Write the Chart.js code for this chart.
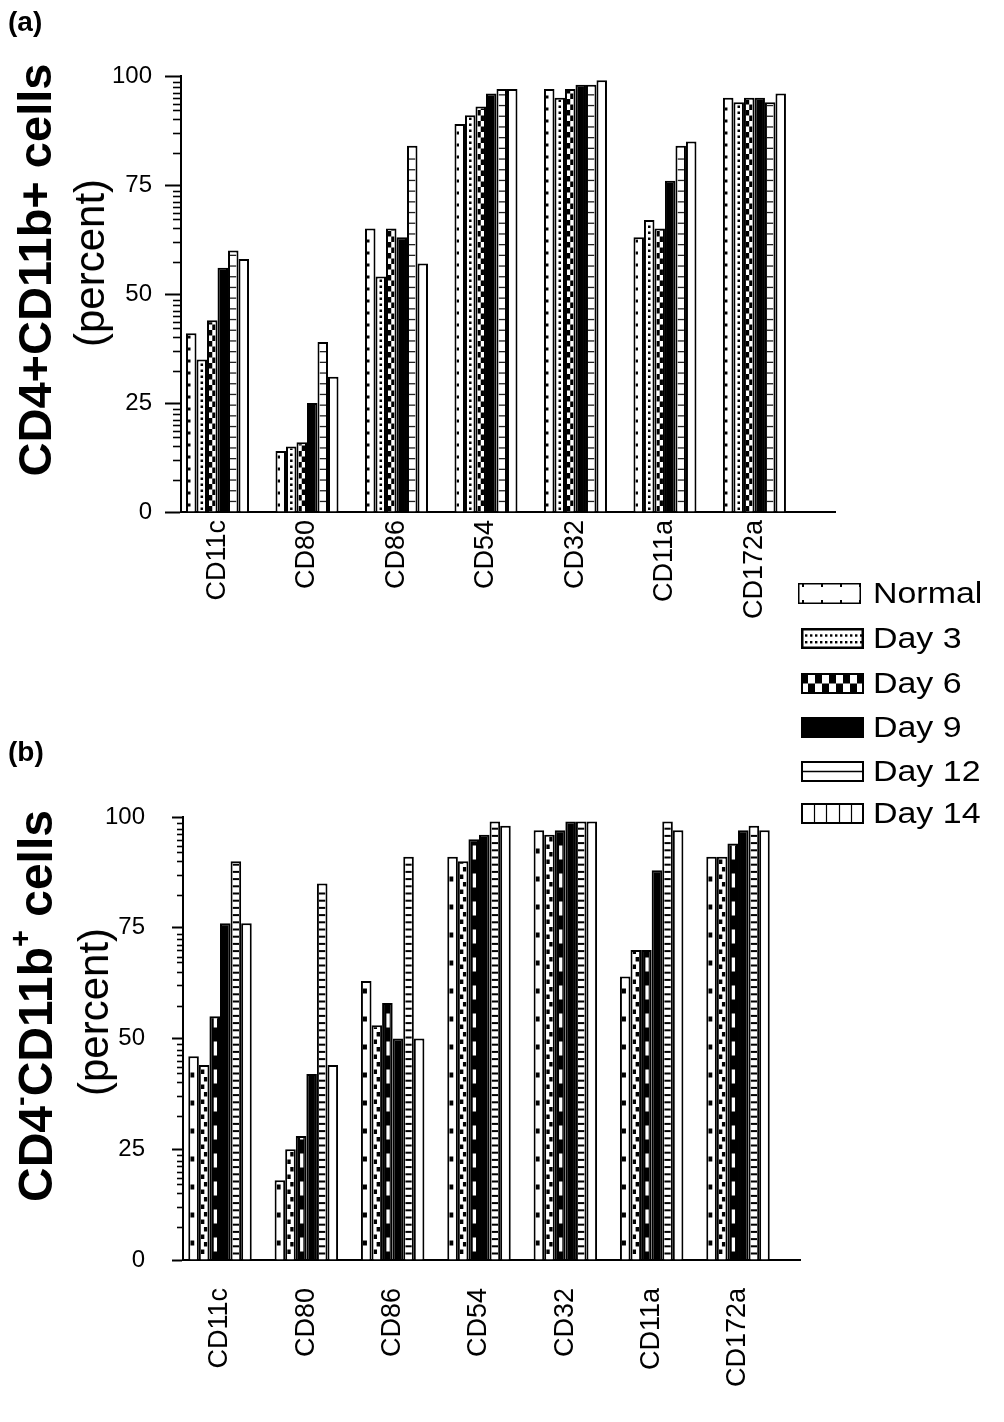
<!DOCTYPE html>
<html><head><meta charset="utf-8">
<script src="https://cdn.jsdelivr.net/npm/chart.js@4.4.1/dist/chart.umd.min.js"></script>
<style>
body{margin:0;background:#fff;}
#page{position:relative;width:1004px;height:1422px;overflow:hidden;background:#fff;font-family:"Liberation Sans",Arial,Helvetica,sans-serif;color:#000}
canvas.chart{position:absolute;left:0}
.rot{position:absolute;white-space:nowrap;transform:translate(-50%,-50%) rotate(-90deg);line-height:1}
.rot sup{font-size:60%;vertical-align:0.75em;line-height:0}
.plabel{position:absolute;font-weight:bold;font-size:28px;line-height:1}
.legtext{position:absolute;font-size:29px;line-height:1;white-space:nowrap;transform-origin:left center;transform:translateY(-50%) scaleX(1.17)}
.legsw{position:absolute}
</style></head>
<body><div id="page">
<canvas id="chartA" class="chart" width="1004" height="660" style="top:0"></canvas>
<canvas id="chartB" class="chart" width="1004" height="722" style="top:700px"></canvas>
<div class="plabel" style="left:8px;top:8px">(a)</div>
<div class="plabel" style="left:8px;top:738px">(b)</div>
<div class="rot" style="left:34px;top:270px;font-size:47px;font-weight:bold">CD4+CD11b+ cells</div>
<div class="rot" style="left:90px;top:263px;font-size:42px">(percent)</div>
<div class="rot" style="left:36px;top:1006px;font-size:48px;font-weight:bold">CD4<sup>-</sup>CD11b<sup>+</sup> cells</div>
<div class="rot" style="left:94px;top:1012px;font-size:42px">(percent)</div>
<div id="legend"></div>
</div>
<script>
// ---- data ----
const categories = ['CD11c','CD80','CD86','CD54','CD32','CD11a','CD172a'];
const seriesNames = ['Normal','Day 3','Day 6','Day 9','Day 12','Day 14'];
const yTicks = [0,25,50,75,100];

// (a) CD4+CD11b+ cells (percent)
const aNormal = [41,14,65,89,97,63,95];
const aDay3   = [35,15,54,91,95,67,94];
const aDay6   = [44,16,65,93,97,65,95];
const aDay9   = [56,25,63,96,98,76,95];
const aDay12  = [60,39,84,97,98,84,94];
const aDay14  = [58,31,57,97,99,85,96];

// (b) CD4-CD11b+ cells (percent)
const bNormal = [46,18,63,91,97,64,91];
const bDay3   = [44,25,53,90,96,70,91];
const bDay6   = [55,28,58,95,97,70,94];
const bDay9   = [76,42,50,96,99,88,97];
const bDay12  = [90,85,91,99,99,99,98];
const bDay14  = [76,44,50,98,99,97,97];

// ---- style / layout ----
const FONT = '"Liberation Sans", Arial, Helvetica, sans-serif';
const minorFractions = [0.052,0.104,0.152,0.204,0.26,0.312,0.396,0.52,0.704];

function fillBarPattern(ctx, style, di, l, t, r, b) {
  const w = r - l;
  ctx.fillStyle = '#000';
  if (style === 'a') {
    if (di === 0) { for (let y = b - 8; y > t - 3; y -= 12) ctx.fillRect(l, y, 2.5, 3); }
    else if (di === 1) { for (let y = b - 4; y > t - 3; y -= 6) ctx.fillRect(l + w/2 - 1.2, y, 2.5, 2.5); }
    else if (di === 2) { const ch = 5.5; let k = 0; for (let y = b - ch; y > t - ch; y -= ch, k++) ctx.fillRect(k % 2 ? l + w/2 : l, y, w/2, ch); }
    else if (di === 4) { ctx.fillStyle = '#222'; for (let y = b - 10.7; y > t; y -= 10.7) ctx.fillRect(l, y, w, 1.3); }
  } else {
    if (di === 0) { for (let y = b - 19; y > t - 5; y -= 28) ctx.fillRect(l, y, 4, 5); }
    else if (di === 1) { let k = 0; for (let y = b - 10; y > t - 5; y -= 7.5, k++) ctx.fillRect(k % 2 ? r - 3.5 : l, y, 3.5, 4.5); }
    else if (di === 2) { ctx.fillStyle = '#fff'; for (let y = b - 22; y > t - 14; y -= 28) ctx.fillRect(l + w * 0.35, y, w * 0.5, 14); }
    else if (di === 4) { for (let y = b - 7; y > t; y -= 7.2) ctx.fillRect(l, y, w, 2); }
  }
}

function makePatternPlugin(style) {
  return {
    id: 'barPatterns' + style,
    afterDatasetDraw(chart, args) {
      const ctx = chart.ctx, bw = 2, di = args.index;
      args.meta.data.forEach(el => {
        const p = el.getProps(['x','y','base','width'], true);
        const l = p.x - p.width/2 + bw, r = p.x + p.width/2 - bw;
        const t = Math.min(p.y, p.base) + bw, b = Math.max(p.y, p.base);
        ctx.save(); ctx.beginPath(); ctx.rect(l, t, r - l, b - t); ctx.clip();
        fillBarPattern(ctx, style, di, l, t, r, b);
        ctx.restore();
      });
    }
  };
}

function makeMinorPlugin(len) {
  return {
    id: 'minorTicks',
    afterDraw(chart) {
      const ys = chart.scales.y, ctx = chart.ctx, x0 = ys.right;
      ctx.save(); ctx.strokeStyle = '#000'; ctx.lineWidth = 1.6;
      for (let i = 1; i < yTicks.length; i++) {
        const top = yTicks[i], step = yTicks[i] - yTicks[i-1];
        minorFractions.forEach(f => {
          const py = Math.round(ys.getPixelForValue(top - step * f)) + 0.5;
          ctx.beginPath(); ctx.moveTo(x0 - len, py); ctx.lineTo(x0, py); ctx.stroke();
        });
      }
      ctx.restore();
    }
  };
}

function makeChart(id, series, cfg) {
  const datasets = series.map((vals, i) => ({
    label: seriesNames[i],
    data: vals.map((v, j) => ({x: j, y: v})),
    backgroundColor: (i === 3 || (cfg.style === 'b' && i === 2)) ? '#000' : '#fff',
    borderColor: '#000',
    borderWidth: 2,
    categoryPercentage: cfg.catPct,
    barPercentage: 1.0
  }));
  return new Chart(document.getElementById(id), {
    type: 'bar',
    data: { datasets },
    plugins: [makePatternPlugin(cfg.style), makeMinorPlugin(cfg.minorLen)],
    options: {
      responsive: false, animation: false, events: [],
      layout: { padding: { left: cfg.padLeft, top: cfg.padTop, right: cfg.padRight, bottom: 0 } },
      plugins: { legend: { display: false }, tooltip: { enabled: false } },
      scales: {
        x: {
          type: 'linear', min: cfg.xMin, max: cfg.xMax, offset: false,
          afterBuildTicks: s => { s.ticks = categories.map((c, i) => ({ value: i })); },
          afterFit: s => { s.height = cfg.xHeight; },
          grid: { display: false, drawTicks: false, offset: false },
          border: { display: true, color: '#000', width: 2 },
          ticks: {
            autoSkip: false, maxRotation: 90, minRotation: 90, padding: cfg.xPad,
            color: '#000', font: { family: FONT, size: 27 },
            callback: v => categories[v]
          }
        },
        y: {
          min: 0, max: 100,
          afterBuildTicks: s => { s.ticks = yTicks.map(v => ({ value: v })); },
          afterFit: s => { s.width = cfg.yWidth; },
          grid: { drawOnChartArea: false, drawTicks: true, tickLength: cfg.tickLen, tickColor: '#000', tickWidth: 2 },
          border: { display: true, color: '#000', width: 2 },
          ticks: { padding: cfg.tickPad, color: '#000', font: { family: FONT, size: 24 } }
        }
      }
    }
  });
}

makeChart('chartA', [aNormal, aDay3, aDay6, aDay9, aDay12, aDay14], {
  style: 'a', xMin: -0.408, xMax: 6.9, padLeft: 100, padTop: 76, padRight: 169,
  yWidth: 81, xHeight: 148, catPct: 0.704, tickLen: 16, tickPad: 13, xPad: 8, minorLen: 8
});
makeChart('chartB', [bNormal, bDay3, bDay6, bDay9, bDay12, bDay14], {
  style: 'b', xMin: -0.4286, xMax: 6.718, padLeft: 100, padTop: 117, padRight: 204,
  yWidth: 83, xHeight: 162, catPct: 0.735, tickLen: 11, tickPad: 27, xPad: 28, minorLen: 6
});

// ---- legend ----
function drawSwatch(ctx, i, w, h) {
  ctx.fillStyle = '#fff'; ctx.fillRect(0, 0, w, h);
  ctx.fillStyle = '#000';
  if (i === 0) {
    for (let x = 4; x < w; x += 19) { ctx.fillRect(x, 1, 2, 3); ctx.fillRect(x, h - 4, 2, 3); }
    ctx.lineWidth = 1.5; ctx.strokeRect(0.75, 0.75, w - 1.5, h - 1.5);
  } else if (i === 1) {
    for (let x = 4; x < w - 2; x += 5) { ctx.fillRect(x, h * 0.3, 2.4, 2.4); ctx.fillRect(x, h * 0.62, 2.4, 2.4); }
    ctx.lineWidth = 2.5; ctx.strokeRect(1.25, 1.25, w - 2.5, h - 2.5);
  } else if (i === 2) {
    const cw = w / 9, chh = h / 2;
    for (let c = 0; c < 9; c++) for (let rr = 0; rr < 2; rr++) if ((c + rr) % 2 === 0) ctx.fillRect(c * cw, rr * chh, cw, chh);
    ctx.lineWidth = 2; ctx.strokeRect(1, 1, w - 2, h - 2);
  } else if (i === 3) {
    ctx.fillRect(0, 0, w, h);
  } else if (i === 4) {
    ctx.lineWidth = 2; ctx.strokeRect(1, 1, w - 2, h - 2);
    ctx.beginPath(); ctx.moveTo(0, h / 2); ctx.lineTo(w, h / 2); ctx.lineWidth = 1.5; ctx.stroke();
  } else if (i === 5) {
    ctx.lineWidth = 2; ctx.strokeRect(1, 1, w - 2, h - 2);
    ctx.lineWidth = 1.2;
    for (let k = 1; k < 5; k++) { const x = Math.round(w * k / 5) + 0.5; ctx.beginPath(); ctx.moveTo(x, 0); ctx.lineTo(x, h); ctx.stroke(); }
  }
}
const legendCenters = [593, 638, 683, 727, 771, 813];
const legend = document.getElementById('legend');
seriesNames.forEach((name, i) => {
  const cy = legendCenters[i];
  const c = document.createElement('canvas');
  c.width = 63; c.height = 21; c.className = 'legsw';
  c.style.left = (i === 0 ? 798 : 801) + 'px'; c.style.top = (cy - 10) + 'px';
  legend.appendChild(c);
  drawSwatch(c.getContext('2d'), i, 63, 21);
  const t = document.createElement('div');
  t.className = 'legtext'; t.textContent = name;
  t.style.left = '873px'; t.style.top = cy + 'px';
  legend.appendChild(t);
});
</script>
</body></html>
